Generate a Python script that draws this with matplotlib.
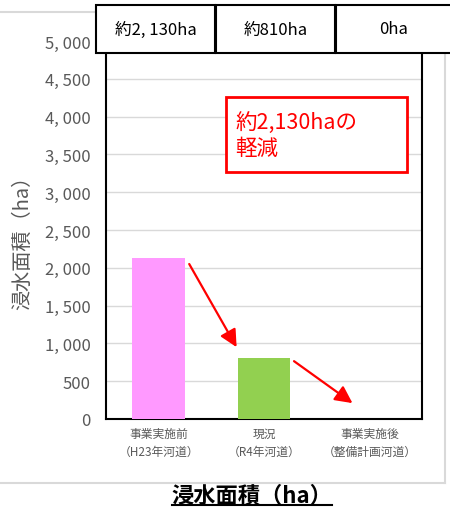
import matplotlib.pyplot as plt
from matplotlib.patches import Rectangle
from matplotlib.lines import Line2D

# ========== DATA ==========
categories = ["事業実施前\n（H23年河道）", "現況\n（R4年河道）", "事業実施後\n（整備計画河道）"]
values = [2130, 810, 0]
header_labels = ["約2, 130ha", "約810ha", "0ha"]
bar_colors = ["#FF99FF", "#92D050", "#92D050"]
y_ticks = list(range(0, 5001, 500))
note_text = "約2,130haの\n軽減"
title_text = "浸水面積（ha）"
ylabel_text = "浸水面積（ha）"

plt.rcParams["font.family"] = ["Noto Sans CJK JP", "DejaVu Sans"]

W, H = 450, 510
fig = plt.figure(figsize=(W / 100, H / 100), dpi=100)


def fx(px):
    return px / W


def fy(py):
    return 1 - py / H


# ========== AXES ==========
ax = fig.add_axes([fx(106), fy(420), fx(422) - fx(106), fy(42) - fy(420)])
x = range(len(values))
ax.bar(x, values, width=0.5, color=bar_colors, zorder=3)
ax.set_xlim(-0.5, 2.5)
ax.set_ylim(0, 5000)
ax.set_yticks(y_ticks)
ax.set_yticklabels([f"{v:,}".replace(",", ", ") for v in y_ticks])
ax.set_xticks(list(x))
ax.set_xticklabels(categories, linespacing=1.45)
ax.tick_params(axis="y", length=0, pad=11, labelsize=12, labelcolor="#595959")
ax.tick_params(axis="x", length=0, pad=6, labelsize=8.5, labelcolor="#595959")
ax.grid(axis="y", color="#d9d9d9", lw=1, zorder=0)
for side in ["left", "right", "bottom"]:
    ax.spines[side].set_color("black")
    ax.spines[side].set_linewidth(1.5)
ax.spines["top"].set_visible(False)

ax.set_ylabel(ylabel_text, fontsize=14.5, color="#595959")
ax.yaxis.set_label_coords(-0.231, 0.483)

# arrows between bars: (start dx, start dy, end dx, end dy) relative to the bar tops
arrow_offsets = [(0.29, -80, 0.74, 140), (0.285, -45, 0.84, 210)]
for i, (sx, sy, ex, ey) in enumerate(arrow_offsets):
    ax.annotate("", xy=(i + ex, values[i + 1] + ey), xytext=(i + sx, values[i] + sy),
                arrowprops=dict(arrowstyle="-|>", color="red", lw=1.6, mutation_scale=26,
                                shrinkA=0, shrinkB=0), zorder=4)

# ========== HEADER CELLS ==========
cells = [(96, 215), (216, 335), (336, 452)]
for (x0, x1), lab in zip(cells, header_labels):
    fig.add_artist(Rectangle((fx(x0), fy(54)), fx(x1) - fx(x0), fy(6) - fy(54),
                             transform=fig.transFigure, facecolor="white",
                             edgecolor="black", lw=1.5, zorder=5))
    fig.text(fx((x0 + x1) / 2), fy(30), lab, ha="center", va="center",
             fontsize=12, color="black", zorder=6)

# ========== NOTE BOX ==========
fig.add_artist(Rectangle((fx(226), fy(173)), fx(407) - fx(226), fy(98) - fy(173),
                         transform=fig.transFigure, facecolor="white",
                         edgecolor="red", lw=2, zorder=5))
fig.text(fx(235), fy(136), note_text, ha="left", va="center", fontsize=15.5,
         color="red", linespacing=1.25, zorder=6)

# ========== CHART AREA BORDER ==========
border = "#d9d9d9"
fig.add_artist(Line2D([0, fx(445)], [fy(13), fy(13)], color=border, lw=1.5))
fig.add_artist(Line2D([fx(445), fx(445)], [fy(13), fy(484)], color=border, lw=1.5))
fig.add_artist(Line2D([0, fx(445)], [fy(484), fy(484)], color=border, lw=1.5))

# ========== TITLE (underlined) ==========
title = fig.text(fx(252), fy(496), title_text, ha="center", va="center",
                 fontsize=16, fontweight="bold", color="black")
fig.canvas.draw()
bb = title.get_window_extent().transformed(fig.transFigure.inverted())
fig.add_artist(Line2D([bb.x0, bb.x1], [bb.y0 + 0.002, bb.y0 + 0.002], color="black", lw=1.5))

fig.savefig("out.png", dpi=100)
